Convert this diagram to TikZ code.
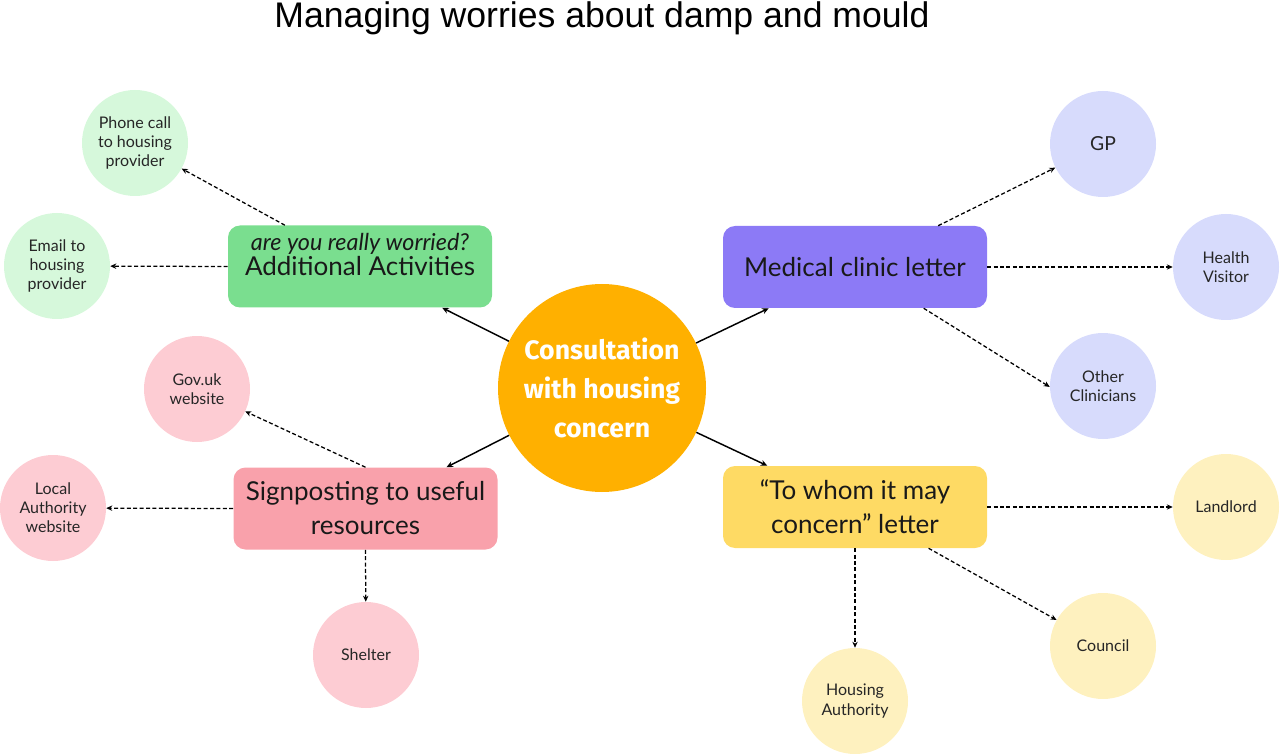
\documentclass[tikz,border=0pt]{standalone}
\usepackage{fontspec}
\setmainfont{Lato}
\newfontfamily\titlefont{Liberation Sans}
\newfontfamily\hubfont{Fira Sans}
\usetikzlibrary{arrows.meta}
\definecolor{hubor}{RGB}{255,176,0}
\definecolor{gbox}{RGB}{122,222,143}
\definecolor{gcirc}{RGB}{214,248,219}
\definecolor{pbox}{RGB}{140,122,246}
\definecolor{pcirc}{RGB}{215,219,252}
\definecolor{kbox}{RGB}{249,161,171}
\definecolor{kcirc}{RGB}{253,204,211}
\definecolor{ybox}{RGB}{254,218,100}
\definecolor{ycirc}{RGB}{254,241,191}
\tikzset{
  mainbox/.style={rectangle, rounded corners=9pt, minimum width=198pt, minimum height=61.5pt,
    inner sep=2pt, align=center, font=\fontsize{19.5}{25.5}\selectfont, text=black!90},
  leaf/.style={circle, minimum size=79.5pt, inner sep=0pt, align=center,
    font=\fontsize{12}{14.3}\selectfont, text=black!85},
  solidarrow/.style={draw=black, line width=1.1pt, -{Stealth[length=5pt,width=4.5pt]}},
  dasharrow/.style={draw=black, line width=0.95pt, dash pattern=on 3pt off 1.8pt,
    -{Stealth[length=4.5pt,width=4pt]}},
}
\begin{document}
\begin{tikzpicture}[x=0.75pt,y=-0.75pt]
\useasboundingbox (0,0) rectangle (1280,755);

\node (title) at (602,18) {\titlefont\fontsize{26.7}{30}\selectfont Managing worries about damp and mould};

\node[circle, fill=hubor, minimum size=156pt, inner sep=0pt, align=center,
  font=\hubfont\bfseries\fontsize{20}{29}\selectfont, text=white] (hub) at (602,388)
  {Consultation\\with housing\\concern};

\node[mainbox, fill=gbox] (add) at (360,266.5) {{\fontsize{17.5}{20}\selectfont\textit{are you really worried?}}\\[-7pt]Additional Activities\\[-7pt]\mbox{}};
\node[mainbox, fill=pbox] (med) at (855,267) {Medical clinic letter};
\node[mainbox, fill=kbox] (sign) at (365.5,508.5) {Signposting to useful\\resources};
\node[mainbox, fill=ybox] (whom) at (855,507) {``To whom it may\\concern'' letter};

\node[leaf, fill=gcirc] (phone) at (135,143) {Phone call\\to housing\\provider};
\node[leaf, fill=gcirc] (email) at (57,266) {Email to\\housing\\provider};
\node[leaf, fill=kcirc] (gov) at (197,389) {Gov.uk\\website};
\node[leaf, fill=kcirc] (local) at (53,508) {Local\\Authority\\website};
\node[leaf, fill=kcirc] (shelter) at (366,655) {Shelter};
\node[leaf, fill=pcirc] (gp) at (1103,144) {\fontsize{14.5}{16}\selectfont GP};
\node[leaf, fill=pcirc] (hv) at (1226,267) {Health\\Visitor};
\node[leaf, fill=pcirc] (other) at (1103,386) {Other\\Clinicians};
\node[leaf, fill=ycirc] (land) at (1226,507) {Landlord};
\node[leaf, fill=ycirc] (council) at (1103,646) {Council};
\node[leaf, fill=ycirc] (ha) at (855,701) {Housing\\Authority};

\draw[solidarrow] (hub) -- (add);
\draw[solidarrow] (hub) -- (med);
\draw[solidarrow] (hub) -- (sign);
\draw[solidarrow] (hub) -- (whom);

\draw[dasharrow] (add) -- (phone);
\draw[dasharrow] (add.west) -- (email);
\draw[dasharrow] (sign.north) -- (gov);
\draw[dasharrow] (sign.west) -- (local);
\draw[dasharrow] (sign.south) -- (shelter);
\draw[dasharrow] (med) -- (gp);
\draw[dasharrow] (med.east) -- (hv);
\draw[dasharrow] (med.-31) -- (other.181);
\draw[dasharrow] (whom.east) -- (land);
\draw[dasharrow] (whom) -- (council);
\draw[dasharrow] (whom.south) -- (ha);
\end{tikzpicture}
\end{document}
